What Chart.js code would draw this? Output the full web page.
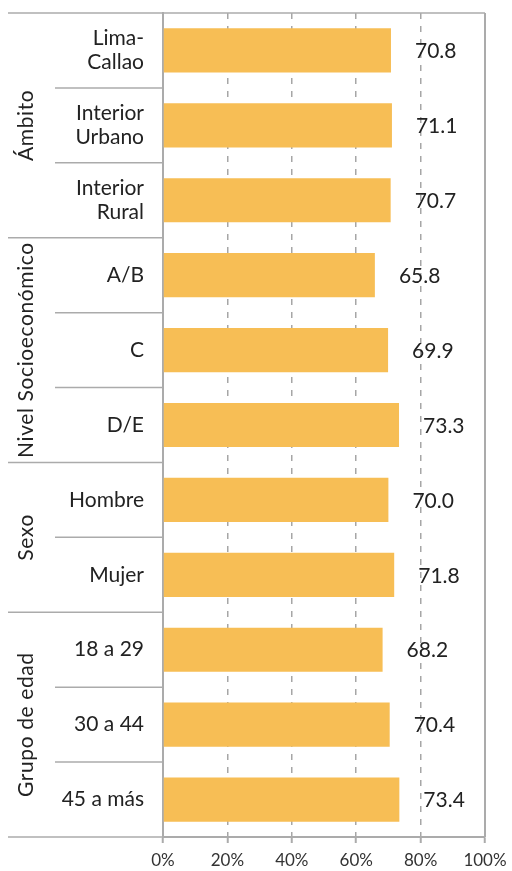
<!DOCTYPE html>
<html>
<head>
<meta charset="utf-8">
<script src="https://cdn.jsdelivr.net/npm/chart.js"></script>
<style>
    html, body { margin: 0; padding: 0; background: #ffffff; }
    #wrap { width: 512px; height: 871px; position: relative; }
</style>
</head>
<body>
<div id="wrap"><canvas id="chart"></canvas></div>
<script>
// Category labels (multi-line where the picture wraps them)
const categories = [
    ['Lima-', 'Callao'],
    ['Interior', 'Urbano'],
    ['Interior', 'Rural'],
    'A/B',
    'C',
    'D/E',
    'Hombre',
    'Mujer',
    '18 a 29',
    '30 a 44',
    '45 a más'
];
const values = [70.8, 71.1, 70.7, 65.8, 69.9, 73.3, 70.0, 71.8, 68.2, 70.4, 73.4];
const groupNames = ['Ámbito', 'Nivel Socioeconómico', 'Sexo', 'Grupo de edad'];
const groupSizes = [3, 3, 2, 3];
const xTicks = [0, 20, 40, 60, 80, 100];

const lineGray = '#ababab';
const textColor = '#222222';
const fontFamily = 'Lato, "Open Sans", sans-serif';

// Separator lines + group titles in the left margin, frame on top/right
const framePlugin = {
    id: 'frame',
    afterDraw(chart) {
        const ctx = chart.ctx;
        const y = chart.scales.y;
        const area = chart.chartArea;
        const half = (y.getPixelForValue(1) - y.getPixelForValue(0)) / 2;
        const leftEdge = 8;
        const innerEdge = 55;

        ctx.save();
        ctx.strokeStyle = lineGray;
        ctx.lineWidth = 1.5;

        // lines between categories
        let start = 0;
        groupSizes.forEach((size, g) => {
            for (let i = start + 1; i < start + size; i++) {
                const py = y.getPixelForValue(i) - half;
                ctx.beginPath();
                ctx.moveTo(innerEdge, py);
                ctx.lineTo(area.left, py);
                ctx.stroke();
            }
            start += size;
        });

        // lines between groups (top and bottom run across the whole chart)
        start = 0;
        for (let g = 0; g <= groupSizes.length; g++) {
            const py = y.getPixelForValue(start) - half;
            const isEdge = g === 0 || g === groupSizes.length;
            ctx.beginPath();
            ctx.moveTo(leftEdge, py);
            ctx.lineTo(isEdge ? area.right : area.left, py);
            ctx.stroke();
            if (g < groupSizes.length) start += groupSizes[g];
        }

        // right border
        ctx.lineWidth = 2;
        ctx.beginPath();
        ctx.moveTo(area.right, area.top);
        ctx.lineTo(area.right, area.bottom);
        ctx.stroke();

        // rotated group titles
        ctx.fillStyle = textColor;
        ctx.font = '21px ' + fontFamily;
        ctx.letterSpacing = '0.6px';
        ctx.textAlign = 'center';
        ctx.textBaseline = 'middle';
        start = 0;
        groupNames.forEach((name, g) => {
            const top = y.getPixelForValue(start) - half;
            const bottom = y.getPixelForValue(start + groupSizes[g] - 1) + half;
            ctx.save();
            ctx.translate(26, (top + bottom) / 2);
            ctx.rotate(-Math.PI / 2);
            ctx.fillText(name, 0, 0);
            ctx.restore();
            start += groupSizes[g];
        });
        ctx.restore();
    }
};

// Value labels to the right of each bar
const valueLabelPlugin = {
    id: 'valueLabels',
    afterDatasetsDraw(chart) {
        const ctx = chart.ctx;
        const meta = chart.getDatasetMeta(0);
        ctx.save();
        ctx.fillStyle = textColor;
        ctx.font = '21px ' + fontFamily;
        ctx.textAlign = 'left';
        ctx.textBaseline = 'middle';
        meta.data.forEach((bar, i) => {
            ctx.fillText(values[i].toFixed(1), bar.x + 24, bar.y + 1);
        });
        ctx.restore();
    }
};

const ctx = document.getElementById('chart').getContext('2d');
new Chart(ctx, {
    type: 'bar',
    data: {
        labels: categories,
        datasets: [{
            data: values,
            backgroundColor: '#F7BE55',
            borderWidth: 0,
            categoryPercentage: 1,
            barPercentage: 0.59
        }]
    },
    options: {
        indexAxis: 'y',
        responsive: true,
        maintainAspectRatio: false,
        animation: false,
        events: [],
        layout: {
            padding: { left: 0, top: 13, right: 27, bottom: 0 }
        },
        plugins: {
            legend: { display: false },
            tooltip: { enabled: false }
        },
        scales: {
            x: {
                min: 0,
                max: 100,
                afterBuildTicks: (scale) => {
                    scale.ticks = xTicks.map(v => ({ value: v }));
                },
                afterFit: (scale) => {
                    scale.height = 34;
                    scale.paddingLeft = 0;
                    scale.paddingRight = 0;
                },
                grid: {
                    color: (c) => (c.tick && (c.tick.value === 0 || c.tick.value === 100)) ? 'rgba(0,0,0,0)' : '#a6a6a6',
                    lineWidth: 1.5,
                    drawTicks: true,
                    tickLength: 6,
                    tickColor: lineGray,
                    tickWidth: 2
                },
                border: {
                    display: true,
                    color: lineGray,
                    width: 2,
                    dash: [6, 7]
                },
                ticks: {
                    color: '#333333',
                    padding: 7,
                    font: { family: fontFamily, size: 17 },
                    callback: (v) => v + '%'
                }
            },
            y: {
                afterFit: (scale) => {
                    // no extra room for the two-line labels: keep the plot at 13..837
                    scale.width = 163;
                    scale.paddingTop = 0;
                    scale.paddingBottom = 0;
                },
                grid: { display: false, drawTicks: false },
                border: { display: true, color: lineGray, width: 2 },
                ticks: {
                    color: textColor,
                    padding: 19,
                    font: { family: fontFamily, size: 21, lineHeight: 1.12 }
                }
            }
        }
    },
    plugins: [framePlugin, valueLabelPlugin]
});
</script>
</body>
</html>
